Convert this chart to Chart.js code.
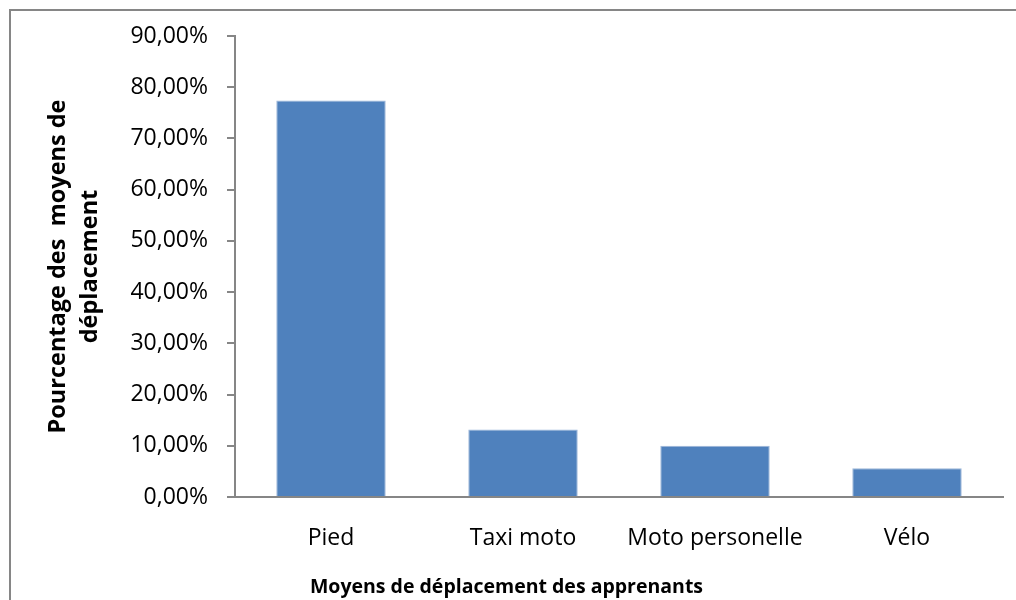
<!DOCTYPE html>
<html>
<head>
<meta charset="utf-8">
<script src="https://cdn.jsdelivr.net/npm/chart.js@4/dist/chart.umd.min.js"></script>
<style>
    html, body { margin: 0; padding: 0; background: #fff; overflow: hidden; }
    #frame {
        position: absolute; left: 9px; top: 9px; width: 1200px; height: 800px;
        border-left: 2px solid #868686; border-top: 2px solid #868686;
    }
    #wrap { position: absolute; left: 0; top: 0; width: 1016px; height: 600px; }
</style>
</head>
<body>
<div id="frame"></div>
<div id="wrap"><canvas id="chart" width="1016" height="600"></canvas></div>
<script>
// data (percent)
const categories = ['Pied', 'Taxi moto', 'Moto personelle', 'Vélo'];
const percentages = [77.4, 13.2, 10.0, 5.6];
const yTicks = [0, 10, 20, 30, 40, 50, 60, 70, 80, 90];

const FONT = "'Open Sans', 'Liberation Sans', sans-serif";
const axisGray = '#868686';

function formatPct(v) {
    return v.toFixed(2).replace('.', ',') + '%';
}

const ctx = document.getElementById('chart').getContext('2d');
new Chart(ctx, {
    type: 'bar',
    data: {
        labels: categories,
        datasets: [{
            data: percentages,
            backgroundColor: '#4f81bd',
            borderColor: '#9db6d9',
            borderWidth: 1,
            categoryPercentage: 1.0,
            barPercentage: 0.57
        }]
    },
    options: {
        responsive: false,
        animation: false,
        layout: { padding: { left: 10, right: 13, top: 36, bottom: 0 } },
        plugins: {
            legend: { display: false },
            tooltip: { enabled: false },
            title: {
                display: true,
                position: 'bottom',
                text: 'Moyens de déplacement des apprenants',
                color: '#000',
                font: { family: FONT, size: 19.5, weight: 'bold', lineHeight: '24px' },
                padding: { top: 25, bottom: 1 }
            }
        },
        scales: {
            x: {
                afterFit: function(scale) {
                    scale.height = 53;
                },
                grid: { display: false, drawTicks: false },
                border: { display: true, color: axisGray, width: 2 },
                ticks: {
                    color: '#000',
                    padding: 28,
                    font: { family: FONT, size: 23 }
                }
            },
            y: {
                min: 0,
                max: 90,
                afterBuildTicks: function(scale) {
                    scale.ticks = yTicks.map(v => ({ value: v }));
                },
                afterFit: function(scale) {
                    scale.width = 225;
                },
                grid: {
                    drawOnChartArea: false,
                    drawTicks: true,
                    tickLength: 8,
                    color: axisGray,
                    lineWidth: 2
                },
                border: { display: true, color: axisGray, width: 2 },
                ticks: {
                    color: '#000',
                    padding: 19,
                    font: { family: FONT, size: 23 },
                    callback: function(value) { return formatPct(value); }
                },
                title: {
                    display: true,
                    text: ['Pourcentage des  moyens de', 'déplacement'],
                    color: '#000',
                    font: { family: FONT, size: 23.5, weight: 'bold', lineHeight: '32px' },
                    padding: { top: 32, bottom: 0 }
                }
            }
        }
    }
});
</script>
</body>
</html>
